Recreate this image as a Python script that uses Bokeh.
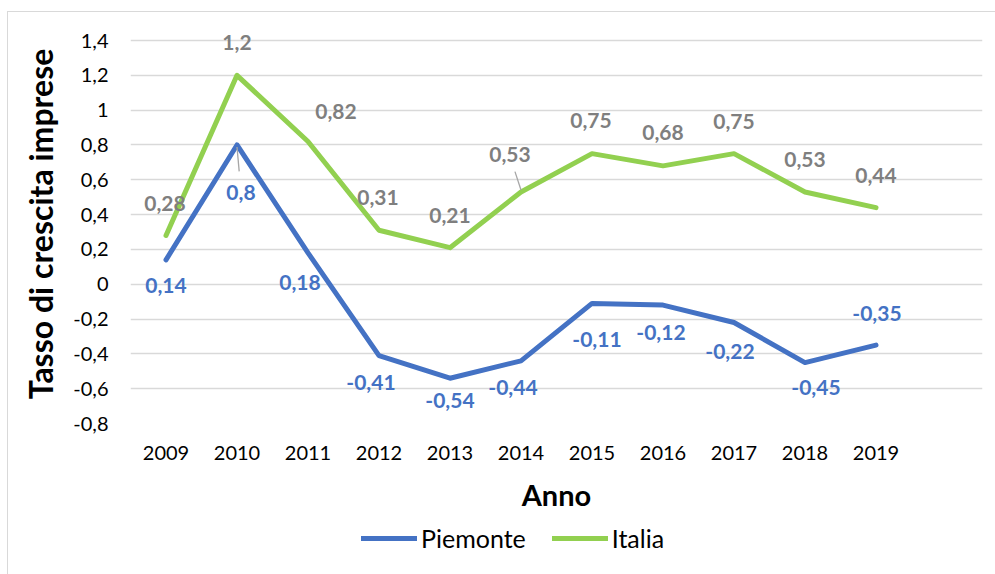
from bokeh.plotting import figure
from bokeh.layouts import column
from bokeh.models import (ColumnDataSource, FactorRange, Range1d, FixedTicker,
                          CustomJSTickFormatter, Legend, LegendItem, LabelSet)
from bokeh.core.properties import value
from bokeh.embed import file_html
from bokeh.resources import INLINE

# ---- data ----
years = ["2009", "2010", "2011", "2012", "2013", "2014", "2015", "2016", "2017", "2018", "2019"]
piemonte = [0.14, 0.8, 0.18, -0.41, -0.54, -0.44, -0.11, -0.12, -0.22, -0.45, -0.35]
italia = [0.28, 1.2, 0.82, 0.31, 0.21, 0.53, 0.75, 0.68, 0.75, 0.53, 0.44]
y_ticks = [-0.8, -0.6, -0.4, -0.2, 0, 0.2, 0.4, 0.6, 0.8, 1.0, 1.2, 1.4]
series_names = ["Piemonte", "Italia"]

# label placement (screen px, y down)
pie_dx = [0, 4, -8, -8, 0, -8, 5, -2, -4, 11, 1]
pie_dy = [26, 48, 30, 27, 22, 27, 36, 27, 29, 25, -32]
ita_dx = [-1, 0, 28, -1, 0, -11, -1, 0, 0, 0, 0]
ita_dy = [-32, -33, -30, -33, -32, -37, -33, -33, -32, -32, -32]

BLUE = "#4472C4"
GREEN = "#92D050"
GRAY = "#7F7F7F"
FONT = "Lato"
BORDER_BG_MAIN = ("linear-gradient(#d9d9d9, #d9d9d9) 7px 11px / 1px 100% no-repeat, "
                  "linear-gradient(#d9d9d9, #d9d9d9) 7px 11px / 100% 1px no-repeat, white")
BORDER_BG_LEG = "linear-gradient(#d9d9d9, #d9d9d9) 7px 0px / 1px 100% no-repeat, white"

def fmt(v):
    return f"{v:g}".replace(".", ",")

src_p = ColumnDataSource(dict(x=years, y=piemonte, t=[fmt(v) for v in piemonte],
                              dx=pie_dx, dy=[-d for d in pie_dy]))
src_i = ColumnDataSource(dict(x=years, y=italia, t=[fmt(v) for v in italia],
                              dx=ita_dx, dy=[-d for d in ita_dy]))

# frame geometry: gridlines from -0.8 (y=423) to 1.4 (y=40); a little headroom above
# the top gridline keeps the "1,2" label inside the (clipped) plot frame
Y_MIN, Y_MAX = -0.8, 1.4
PX_PER_UNIT = 383 / (Y_MAX - Y_MIN)
HEADROOM_PX = 16
factors = years + [" "]
p = figure(x_range=FactorRange(factors=factors, range_padding=0),
           y_range=Range1d(Y_MIN, Y_MAX + HEADROOM_PX / PX_PER_UNIT),
           width=995, height=520, output_backend="svg", toolbar_location=None,
           min_border_left=130, min_border_right=13, min_border_top=40 - HEADROOM_PX,
           min_border_bottom=97)
p.outline_line_color = None
p.background_fill_color = "white"
p.background_fill_alpha = 0
p.border_fill_alpha = 0
p.styles = {"background": BORDER_BG_MAIN}

# grid
p.xgrid.grid_line_color = None
p.ygrid.grid_line_color = "#d9d9d9"
p.ygrid.grid_line_width = 1.3
p.yaxis.ticker = FixedTicker(ticks=y_ticks)
p.yaxis.formatter = CustomJSTickFormatter(code="""
    let s = tick.toFixed(1).replace('.', ',');
    if (s.endsWith(',0')) s = s.slice(0, -2);
    if (s === '-0') s = '0';
    return s;
""")

for ax in (p.xaxis, p.yaxis):
    ax.axis_line_color = None
    ax.major_tick_line_color = None
    ax.minor_tick_line_color = None
    ax.major_tick_out = 0
    ax.major_tick_in = 0
    ax.major_label_text_font = FONT
    ax.major_label_text_font_size = "20px"
    ax.major_label_text_color = "#000000"
    ax.axis_label_text_font = FONT
    ax.axis_label_text_font_style = "bold"
    ax.axis_label_text_color = "#000000"

p.yaxis.axis_label = "Tasso di crescita imprese"
p.yaxis.axis_label_text_font_size = "32px"
p.yaxis.major_label_standoff = 22
p.yaxis.axis_label_standoff = 10
p.xaxis.axis_label = "Anno"
p.xaxis.axis_label_text_font_size = "29px"
p.xaxis.major_label_standoff = 16
p.xaxis.axis_label_standoff = 10

# lines
p.line("x", "y", source=src_p, line_color=BLUE, line_width=5, line_join="round", line_cap="round")
p.line("x", "y", source=src_i, line_color=GREEN, line_width=5, line_join="round", line_cap="round")

# leader lines (from point toward label)
lead_x0, lead_y0, lead_x1, lead_y1 = [], [], [], []
PX_PER_CAT = 71.0
for yr, v, dx, dy, frac in [("2010", piemonte[1], pie_dx[1], pie_dy[1], 0.55),
                            ("2014", italia[5], ita_dx[5], ita_dy[5], 0.55)]:
    lead_x0.append((yr, 0.0))
    lead_y0.append(v - (2 if dy > 0 else -2) / PX_PER_UNIT)
    lead_x1.append((yr, dx * frac / PX_PER_CAT))
    lead_y1.append(v - dy * frac / PX_PER_UNIT)
p.segment(x0=lead_x0, y0=lead_y0, x1=lead_x1, y1=lead_y1, line_color="#A6A6A6", line_width=1.3)

# data labels
for src, col in ((src_p, BLUE), (src_i, GRAY)):
    p.add_layout(LabelSet(x="x", y="y", text="t", source=src, x_offset="dx", y_offset="dy",
                          text_color=col, text_font=value(FONT), text_font_style="bold",
                          text_font_size="21px", text_align="center", text_baseline="middle"))

# ---- legend strip (separate small figure so the legend can sit off-centre) ----
lg = figure(width=995, height=54, output_backend="svg", toolbar_location=None,
            x_range=Range1d(10, 11), y_range=Range1d(10, 11),
            x_axis_location=None, y_axis_location=None,
            min_border_left=0, min_border_right=0, min_border_top=0, min_border_bottom=0)
lg.outline_line_color = None
lg.grid.grid_line_color = None
lg.background_fill_alpha = 0
lg.border_fill_alpha = 0
lg.styles = {"background": BORDER_BG_LEG}
r1 = lg.line([0, 1], [0, 0], line_color=BLUE, line_width=5, line_cap="round")
r2 = lg.line([0, 1], [0, 0], line_color=GREEN, line_width=5, line_cap="round")
legend = Legend(items=[LegendItem(label=series_names[0], renderers=[r1]),
                       LegendItem(label=series_names[1], renderers=[r2])],
                location=(231, 21), orientation="horizontal",
                glyph_width=56, glyph_height=24, label_standoff=4, spacing=26,
                padding=0, margin=0, border_line_color=None, background_fill_alpha=0,
                label_text_font=FONT, label_text_font_size="25px", label_text_color="#000000")
lg.add_layout(legend, "center")

layout = column(p, lg, spacing=0)
open("out.html", "w").write(file_html(layout, INLINE))
